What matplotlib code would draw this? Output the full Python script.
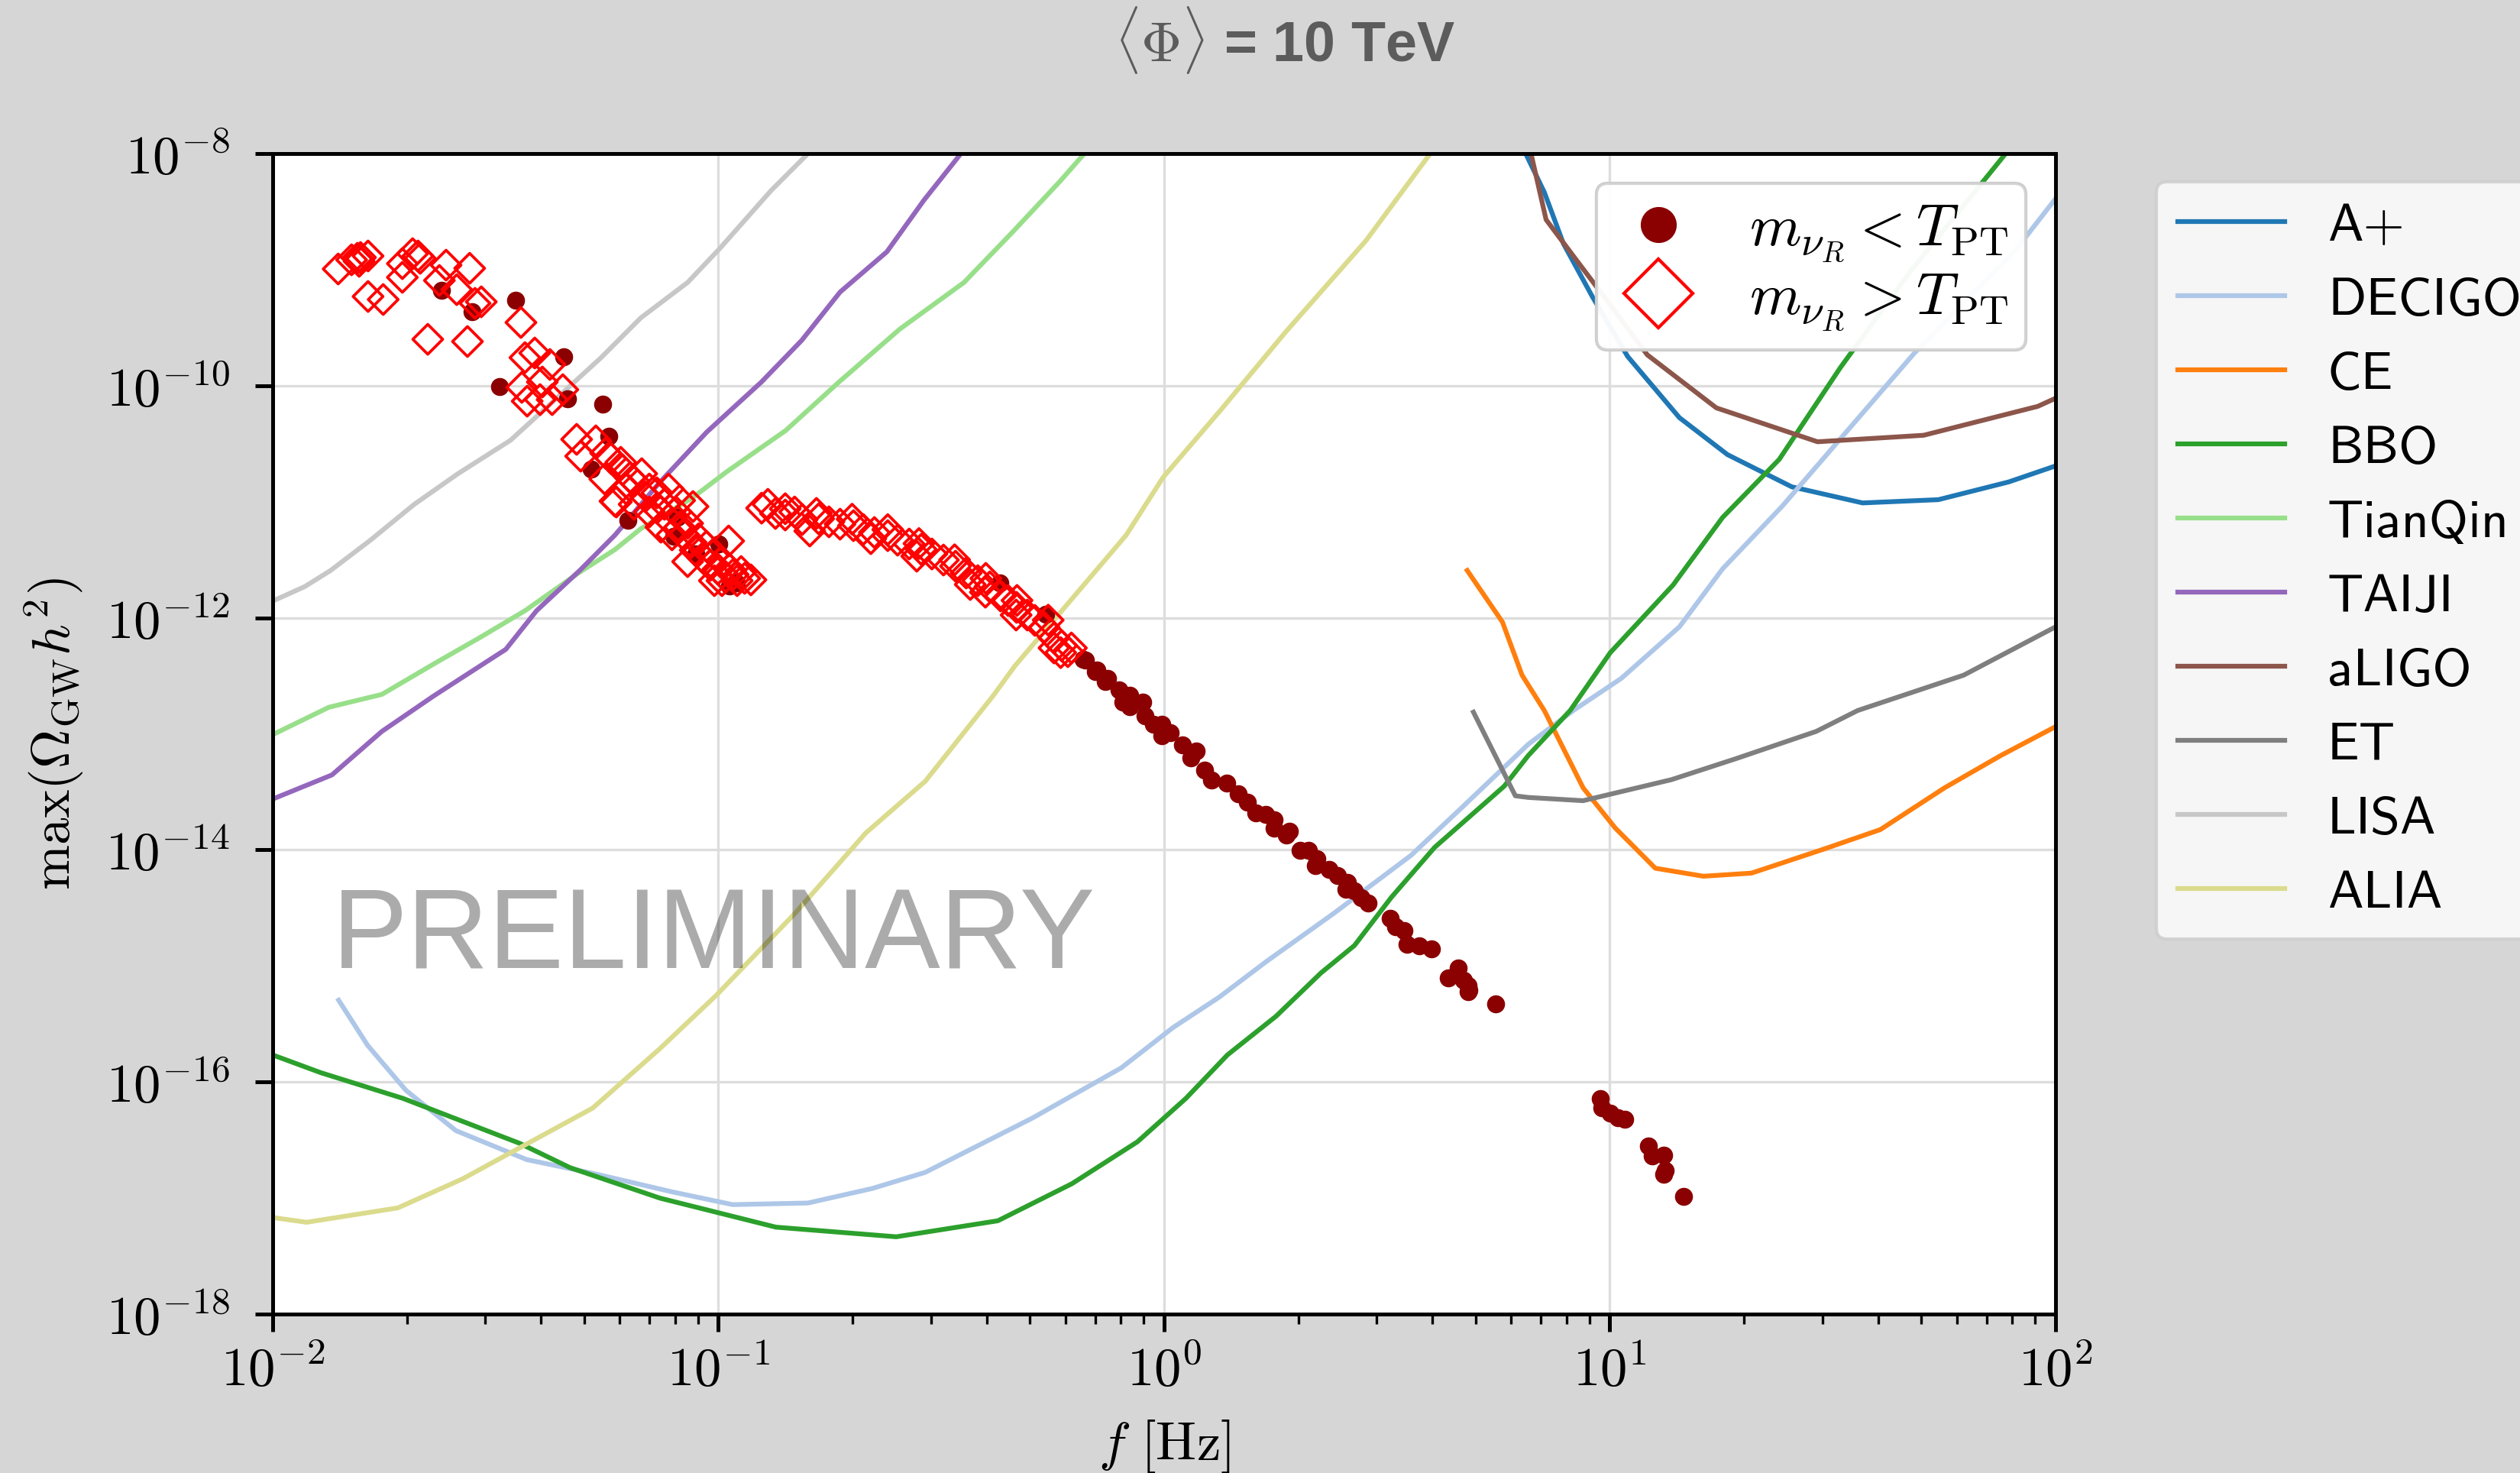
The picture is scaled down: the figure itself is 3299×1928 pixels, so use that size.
"""
Max GW amplitude vs peak frequency for <Phi> = 10 TeV, with detector
sensitivity curves.
"""

import numpy as np
import matplotlib
matplotlib.use('Agg')
import matplotlib.pyplot as plt
from matplotlib.lines import Line2D
from matplotlib.ticker import FuncFormatter, LogLocator, NullLocator

plt.rcParams['mathtext.fontset'] = 'cm'

# Sensitivity curves, stored as log10(f / Hz) and log10(Omega h^2)
aplus_logf = [0.795, 0.813, 0.853, 0.896, 0.961, 1.040, 1.156, 1.264, 1.408, 1.567, 1.737, 1.895, 2.0]
aplus_logO = [-7.847, -8.014, -8.333, -8.777, -9.234, -9.748, -10.275, -10.594, -10.871, -11.010, -10.982, -10.829, -10.691]

decigo_logf = [-1.852, -1.787, -1.701, -1.589, -1.430, -1.275, -1.105, -0.968, -0.799, -0.655, -0.536,
               -0.294, -0.096, 0.020, 0.124, 0.229, 0.381, 0.554, 0.673, 0.817, 0.918, 1.026, 1.156,
               1.253, 1.387, 1.683, 1.910, 2.0]
decigo_logO = [-15.295, -15.684, -16.072, -16.419, -16.669, -16.793, -16.946, -17.057, -17.043, -16.918,
               -16.779, -16.308, -15.878, -15.531, -15.268, -14.963, -14.546, -14.047, -13.617, -13.090,
               -12.799, -12.521, -12.078, -11.578, -11.037, -9.720, -8.832, -8.388]

ce_logf = [0.680, 0.759, 0.803, 0.853, 0.940, 1.012, 1.102, 1.210, 1.318, 1.481, 1.607, 1.751, 1.877, 2.0]
ce_logO = [-11.592, -12.036, -12.494, -12.799, -13.465, -13.811, -14.158, -14.227, -14.200, -13.992,
           -13.825, -13.465, -13.187, -12.938]

bbo_logf = [-2.0, -1.892, -1.708, -1.445, -1.333, -1.131, -0.871, -0.601, -0.373, -0.207, -0.060, 0.049,
            0.142, 0.251, 0.352, 0.427, 0.510, 0.607, 0.763, 0.817, 0.911, 1.001, 1.142, 1.253, 1.380,
            1.517, 1.672, 1.885, 1.931]
bbo_logO = [-15.767, -15.920, -16.141, -16.530, -16.738, -17.001, -17.251, -17.334, -17.196, -16.877,
            -16.516, -16.141, -15.767, -15.434, -15.060, -14.824, -14.408, -13.978, -13.451, -13.187,
            -12.799, -12.300, -11.717, -11.135, -10.635, -9.845, -9.026, -8.014, -7.778]

tianqin_logf = [-2.0, -1.874, -1.755, -1.632, -1.531, -1.434, -1.311, -1.232, -1.174, -1.059, -0.983,
                -0.849, -0.730, -0.593, -0.449, -0.341, -0.233, -0.160]
tianqin_logO = [-13.007, -12.771, -12.660, -12.383, -12.161, -11.939, -11.606, -11.412, -11.232, -10.968,
                -10.746, -10.386, -9.970, -9.512, -9.110, -8.680, -8.236, -7.917]

taiji_logf = [-2.0, -1.867, -1.755, -1.639, -1.477, -1.408, -1.311, -1.232, -1.134, -1.026, -0.904,
              -0.813, -0.727, -0.622, -0.539, -0.456, -0.395]
taiji_logO = [-13.562, -13.354, -12.979, -12.674, -12.272, -11.939, -11.592, -11.287, -10.843, -10.399,
              -9.970, -9.609, -9.193, -8.846, -8.402, -8.0, -7.709]

aligo_logf = [0.813, 0.824, 0.857, 0.922, 1.001, 1.084, 1.239, 1.466, 1.704, 1.960, 2.0]
aligo_logO = [-7.847, -8.014, -8.569, -8.902, -9.304, -9.734, -10.191, -10.483, -10.427, -10.178, -10.108]

et_logf = [0.694, 0.788, 0.817, 0.940, 1.138, 1.282, 1.463, 1.556, 1.794, 2.0]
et_logO = [-12.813, -13.534, -13.548, -13.576, -13.395, -13.215, -12.979, -12.799, -12.494, -12.078]

lisa_logf = [-2.0, -1.928, -1.870, -1.780, -1.683, -1.585, -1.466, -1.383, -1.264, -1.174, -1.069,
             -0.997, -0.882, -0.799, -0.702]
lisa_logO = [-11.856, -11.731, -11.592, -11.329, -11.024, -10.760, -10.469, -10.178, -9.761, -9.415,
             -9.110, -8.818, -8.319, -8.0, -7.64]

alia_logf = [-2.0, -1.924, -1.719, -1.574, -1.282, -1.131, -1.005, -0.828, -0.669, -0.536, -0.384,
             -0.334, -0.085, -0.002, 0.128, 0.272, 0.453, 0.597, 0.669]
alia_logO = [-17.168, -17.209, -17.085, -16.835, -16.225, -15.712, -15.254, -14.546, -13.853, -13.409,
             -12.674, -12.411, -11.287, -10.788, -10.205, -9.540, -8.749, -8.0, -7.667]

curve_names = ['A+', 'DECIGO', 'CE', 'BBO', 'TianQin', 'TAIJI', 'aLIGO', 'ET', 'LISA', 'ALIA']
curve_colors = ['#1f77b4', '#aec7e8', '#ff7f0e', '#2ca02c', '#98df8a',
                '#9467bd', '#8c564b', '#7f7f7f', '#c7c7c7', '#dbdb8d']
curve_data = [(aplus_logf, aplus_logO), (decigo_logf, decigo_logO), (ce_logf, ce_logO),
              (bbo_logf, bbo_logO), (tianqin_logf, tianqin_logO), (taiji_logf, taiji_logO),
              (aligo_logf, aligo_logO), (et_logf, et_logO), (lisa_logf, lisa_logO),
              (alia_logf, alia_logO)]

# Scan points, m_nuR < T_PT (filled circles)
light_logf = [-1.621, -1.553, -1.455, -1.347, -1.491, -1.338, -1.260, -1.246, -1.285, -1.203, -1.092,
              -1.100, -1.050, -0.999, -0.975, -0.960, -0.368, -0.266, -0.182, -0.177, -0.154, -0.151,
              -0.132, -0.127, -0.101, -0.077, -0.093, -0.077, -0.048, -0.043, -0.024, -0.005, -0.005,
              0.014, 0.041, 0.072, 0.060, 0.091, 0.106, 0.141, 0.166, 0.187, 0.206, 0.228, 0.247,
              0.247, 0.274, 0.281, 0.305, 0.324, 0.343, 0.339, 0.370, 0.389, 0.411, 0.408, 0.427,
              0.442, 0.458, 0.507, 0.519, 0.538, 0.545, 0.572, 0.600, 0.660, 0.638, 0.672, 0.684,
              0.682, 0.682, 0.744, 0.979, 0.982, 1.001, 1.018, 1.033, 1.087, 1.095, 1.121, 1.124,
              1.121, 1.165]
light_logO = [-9.178, -9.363, -9.264, -9.751, -10.008, -10.113, -10.159, -10.436, -10.719, -11.160,
              -11.134, -11.300, -11.450, -11.364, -11.726, -11.700, -11.700, -11.970, -12.358, -12.365,
              -12.463, -12.450, -12.549, -12.523, -12.622, -12.668, -12.727, -12.766, -12.727, -12.845,
              -12.918, -12.918, -13.016, -12.990, -13.095, -13.148, -13.207, -13.313, -13.398, -13.425,
              -13.517, -13.589, -13.681, -13.695, -13.741, -13.813, -13.872, -13.839, -14.004, -14.004,
              -14.076, -14.136, -14.169, -14.221, -14.280, -14.340, -14.353, -14.412, -14.458, -14.590,
              -14.662, -14.695, -14.814, -14.827, -14.853, -15.018, -15.103, -15.123, -15.209, -15.169,
              -15.222, -15.327, -16.144, -16.222, -16.268, -16.308, -16.321, -16.552, -16.637, -16.631,
              -16.762, -16.795, -16.986]

# Scan points, m_nuR > T_PT (open diamonds)
heavy_logf = [-1.853, -1.823, -1.810, -1.803, -1.786, -1.806, -1.709, -1.686, -1.674, -1.669, -1.709,
              -1.786, -1.752, -1.611, -1.558, -1.626, -1.587, -1.546, -1.532, -1.652, -1.563, -1.443,
              -1.434, -1.412, -1.378, -1.441, -1.395, -1.429, -1.400, -1.373, -1.349, -1.318, -1.275,
              -1.309, -1.253, -1.219, -1.255, -1.229, -1.189, -1.155,
              -1.241, -1.232, -1.215, -1.207, -1.198, -1.189, -1.172, -1.164, -1.155, -1.138, -1.138,
              -1.129, -1.121, -1.112, -1.112, -1.104, -1.095, -1.087, -1.087, -1.078, -1.069, -1.069,
              -1.061, -1.057, -1.052, -1.044, -1.035, -1.027, -1.018, -1.009, -1.009, -1.001, -0.992,
              -0.992, -0.984, -0.977, -0.975, -0.967, -0.958, -0.949, -0.941, -0.927,
              -0.903, -0.889, -0.872, -0.850, -0.829, -0.812, -0.795, -0.775, -0.752, -0.727, -0.697,
              -0.675, -0.658, -0.650, -0.620, -0.598, -0.572, -0.555, -0.545, -0.521, -0.495, -0.468,
              -0.444, -0.435, -0.418, -0.401, -0.391, -0.367, -0.350, -0.332, -0.331, -0.307, -0.290,
              -0.269, -0.247, -0.230, -0.216, -0.850, -0.780, -0.700, -0.620, -0.550, -0.470, -0.400,
              -0.330, -0.260, -0.232, -0.208, -0.247]
heavy_logO = [-8.994, -8.915, -8.902, -8.895, -8.882, -8.928, -8.948, -8.862, -8.882, -8.902, -9.066,
              -9.231, -9.257, -8.961, -8.988, -9.093, -9.172, -9.290, -9.277, -9.600, -9.619, -9.455,
              -9.758, -9.718, -9.817, -10.014, -9.968, -10.133, -10.120, -10.120, -10.034, -10.462,
              -10.475, -10.607, -10.581, -10.660, -10.804, -11.002, -10.824, -10.890,
              -10.627, -10.995, -10.725, -10.890, -10.791, -11.022, -10.758, -10.956, -11.088, -10.923,
              -11.055, -11.219, -11.022, -11.153, -10.890, -11.285, -11.088, -11.219, -10.989, -11.285,
              -11.186, -11.516, -11.351, -11.041, -11.417, -11.318, -11.483, -11.384, -11.548, -11.450,
              -11.680, -11.581, -11.516, -11.680, -11.647, -11.338, -11.581, -11.627, -11.680, -11.601,
              -11.660, -11.673,
              -11.055, -11.022, -11.101, -11.114, -11.088, -11.153, -11.252, -11.147, -11.173, -11.193,
              -11.206, -11.239, -11.318, -11.265, -11.292, -11.331, -11.364, -11.469, -11.410, -11.450,
              -11.502, -11.555, -11.614, -11.713, -11.680, -11.779, -11.733, -11.812, -11.851, -11.976,
              -11.910, -11.976, -12.022, -12.082, -12.174, -12.240, -12.292, -11.060, -11.100, -11.150,
              -11.240, -11.360, -11.500, -11.660, -11.850, -12.020, -12.300, -12.260, -12.260]

fig = plt.figure(figsize=(3299 / 300, 1928 / 300), dpi=300, facecolor='#d6d6d6')
ax = fig.add_axes([0.1082, 0.1079, 0.7075, 0.7878])

line_handles = []
for name, col, (lf, lo) in zip(curve_names, curve_colors, curve_data):
    h, = ax.plot(10.0 ** np.array(lf), 10.0 ** np.array(lo), color=col, lw=1.5, label=name)
    line_handles.append(h)

ax.scatter(10.0 ** np.array(light_logf), 10.0 ** np.array(light_logO), s=32, marker='o',
           color='darkred', linewidths=0, zorder=3)
ax.scatter(10.0 ** np.array(heavy_logf), 10.0 ** np.array(heavy_logO), s=44, marker='D',
           facecolors='none', edgecolors='red', linewidths=0.9, zorder=4)

ax.set_xscale('log')
ax.set_yscale('log')
ax.set_xlim(1e-2, 1e2)
ax.set_ylim(1e-18, 1e-8)
ax.set_xticks(10.0 ** np.arange(-2, 3))
ax.set_yticks(10.0 ** np.arange(-18, -7, 2))
ax.xaxis.set_minor_locator(LogLocator(base=10, subs=np.arange(2, 10), numticks=20))
ax.yaxis.set_minor_locator(NullLocator())
fmt = FuncFormatter(lambda v, p: r'$10^{%d}$' % int(round(np.log10(v))))
ax.xaxis.set_major_formatter(fmt)
ax.yaxis.set_major_formatter(fmt)
ax.tick_params(which='major', direction='out', length=5.5, width=1.2, labelsize=17)
ax.tick_params(which='minor', direction='out', length=3, width=0.8)
ax.tick_params(axis='y', which='major', pad=8)
ax.tick_params(axis='x', which='major', pad=4)
for sp in ax.spines.values():
    sp.set_linewidth(1.2)
ax.grid(True, which='major', color='#dddddd', lw=0.8)
ax.set_axisbelow(True)

ax.set_xlabel(r'$f\ [\mathrm{Hz}]$', fontsize=17)
ax.xaxis.set_label_coords(0.5, -0.0895)
ax.set_ylabel(r'$\max(\Omega_{\rm GW} h^2)$', fontsize=17)
ax.yaxis.set_label_coords(-0.105, 0.5)

ax.text(0.0334, 0.298, 'PRELIMINARY', transform=ax.transAxes, fontsize=35.5,
        family='Liberation Sans', color='black', alpha=0.33, va='baseline', ha='left', zorder=5)

scan_handles = [
    Line2D([], [], ls='none', marker='o', color='darkred', markersize=10.3),
    Line2D([], [], ls='none', marker='D', mfc='none', mec='red', mew=1.0, markersize=15.4),
]
leg1 = ax.legend(scan_handles, [r'$m_{\nu_R} < T_{\rm PT}$', r'$m_{\nu_R} > T_{\rm PT}$'],
                 loc='upper right', fontsize=18.5, labelspacing=0.1, borderpad=0.3,
                 handlelength=1.5)
ax.add_artist(leg1)

fig.legend(handles=line_handles, loc='upper left', bbox_to_anchor=(0.8557, 0.8766),
           borderaxespad=0, prop={'family': 'cmss10', 'size': 16.8})

fig.text(0.510, 0.973, r'$\langle\Phi\rangle$ = 10 TeV', ha='center', va='center', fontsize=17.7,
         fontweight='bold', family='Liberation Sans', color='#5c5c5c')

fig.savefig('out.png', dpi=300, facecolor=fig.get_facecolor())
